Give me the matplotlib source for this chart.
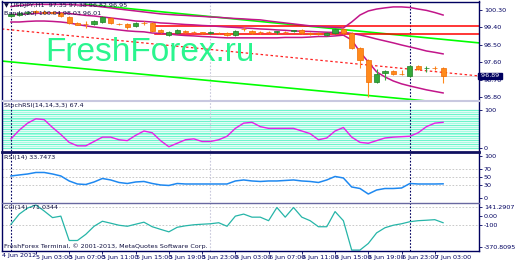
import numpy as np
import matplotlib.pyplot as plt

W, H = 520, 260

# hourly USDJPY bars, index 0 = 5 Jun 00:00
opens = [99.99, 100.04, 100.15, 100.25, 100.20, 100.20, 100.15, 99.94, 99.63, 99.58,
         99.58, 99.68, 99.89, 99.58, 99.58, 99.48, 99.63, 99.63, 99.27, 99.01,
         99.11, 99.22, 99.17, 99.14, 99.09, 99.11, 99.11, 99.01, 99.32, 99.22,
         99.17, 99.17, 99.14, 99.17, 99.19, 99.27, 99.11, 99.11, 99.01, 99.11,
         99.32, 99.11, 98.34, 97.72, 96.58, 97.05, 97.15, 96.99, 96.89, 97.41,
         97.29, 97.30, 97.30]
closes = [100.09, 100.15, 100.20, 100.20, 100.17, 100.17, 99.99, 99.63, 99.55, 99.56,
          99.73, 99.94, 99.63, 99.56, 99.42, 99.63, 99.62, 99.22, 99.17, 99.17,
          99.27, 99.17, 99.15, 99.09, 99.17, 99.10, 99.01, 99.22, 99.30, 99.11,
          99.15, 99.15, 99.19, 99.15, 99.27, 99.11, 99.06, 99.06, 99.11, 99.32,
          99.11, 98.34, 97.72, 96.58, 96.99, 97.15, 96.99, 96.98, 97.41, 97.25,
          97.30, 97.29, 96.89]
highs = [100.15, 100.20, 100.25, 100.30, 100.30, 100.25, 100.20, 99.99, 99.68, 99.73,
         99.79, 99.99, 99.94, 99.63, 99.63, 99.68, 99.73, 99.68, 99.32, 99.22,
         99.32, 99.27, 99.22, 99.17, 99.19, 99.17, 99.17, 99.27, 99.42, 99.27,
         99.22, 99.22, 99.22, 99.22, 99.29, 99.32, 99.14, 99.14, 99.17, 99.37,
         99.37, 99.17, 98.39, 97.77, 97.25, 97.20, 97.18, 97.20, 97.46, 97.43,
         97.41, 97.41, 97.33]
lows = [99.94, 99.99, 100.09, 100.15, 100.09, 100.09, 99.94, 99.58, 99.53, 99.37,
        99.53, 99.63, 99.58, 99.50, 99.32, 99.42, 99.53, 99.17, 99.11, 98.96,
        99.06, 99.11, 99.09, 99.06, 99.06, 99.06, 98.96, 98.96, 99.22, 99.06,
        99.06, 99.11, 99.06, 99.11, 99.17, 99.06, 99.01, 99.01, 98.96, 99.06,
        99.06, 98.29, 97.30, 95.80, 96.53, 96.68, 96.94, 96.94, 96.84, 97.20,
        97.10, 97.20, 96.53]

# bollinger bands
bb_upper = [100.48, 100.54, 100.56, 100.59, 100.59, 100.59, 100.59, 100.59, 100.56, 100.54,
            100.51, 100.46, 100.41, 100.35, 100.30, 100.25, 100.20, 100.15, 100.10, 100.07,
            100.04, 100.02, 99.99, 99.97, 99.94, 99.92, 99.89, 99.86, 99.84, 99.81,
            99.79, 99.73, 99.68, 99.63, 99.58, 99.53, 99.48, 99.45, 99.42, 99.40,
            99.37, 99.68, 100.04, 100.25, 100.35, 100.41, 100.46, 100.46, 100.43, 100.35,
            100.28, 100.17, 100.04]
bb_middle = [100.07, 100.07, 100.10, 100.12, 100.15, 100.15, 100.15, 100.12, 100.07, 100.02,
             99.99, 99.94, 99.89, 99.84, 99.79, 99.73, 99.71, 99.68, 99.63, 99.61,
             99.58, 99.55, 99.53, 99.50, 99.48, 99.45, 99.42, 99.40, 99.37, 99.35,
             99.32, 99.30, 99.27, 99.25, 99.22, 99.20, 99.19, 99.17, 99.15, 99.14,
             99.14, 99.09, 99.01, 98.91, 98.80, 98.70, 98.60, 98.49, 98.39, 98.29,
             98.18, 98.11, 98.03]
bb_lower = [99.68, 99.68, 99.71, 99.73, 99.73, 99.71, 99.68, 99.63, 99.55, 99.48,
            99.42, 99.37, 99.32, 99.27, 99.22, 99.19, 99.17, 99.11, 99.09, 99.06,
            99.01, 98.98, 98.96, 98.93, 98.91, 98.88, 98.86, 98.86, 98.86, 98.86,
            98.86, 98.86, 98.86, 98.88, 98.88, 98.88, 98.90, 98.93, 98.93, 98.96,
            99.00, 98.75, 98.13, 97.61, 97.10, 96.84, 96.63, 96.48, 96.37, 96.27,
            96.17, 96.09, 96.01]

# hand drawn objects: (bar index, price) end points
green_upper = ([9, 56.3], [100.59, 98.60])
green_lower = ([-1.1, 56.3], [97.66, 95.34])
red_dotted = ([-1.1, 56.3], [99.32, 96.89])
red_levels = [99.48, 99.06]
red_levels_start = 17.3

stoch = [23.3, 46.5, 65.1, 76.7, 74.4, 53.5, 34.9, 14.0, 4.7, 4.7,
         16.3, 27.9, 27.9, 20.9, 18.6, 32.6, 44.2, 39.5, 18.6, 2.3,
         11.6, 20.9, 23.3, 16.3, 16.3, 20.9, 30.2, 51.2, 65.1, 67.4,
         55.8, 51.2, 51.2, 51.2, 51.2, 44.2, 37.2, 20.9, 25.6, 44.2,
         53.5, 27.9, 14.0, 11.6, 18.6, 25.6, 27.9, 29.1, 30.2, 39.5,
         55.8, 65.1, 67.4]
rsi = [52.4, 54.8, 57.1, 60.7, 60.7, 57.1, 52.4, 40.5, 33.3, 32.1,
       38.1, 46.4, 42.9, 36.9, 34.5, 38.1, 39.3, 34.5, 31.0, 29.8,
       34.5, 33.3, 33.3, 33.3, 33.3, 33.3, 33.3, 40.5, 42.9, 40.5,
       39.3, 40.5, 40.5, 41.7, 42.9, 40.5, 39.3, 36.9, 42.9, 51.2,
       47.6, 26.2, 22.6, 9.5, 19.0, 22.6, 22.6, 23.8, 34.5, 33.3,
       33.3, 33.3, 33.7]
cci = [-87, 22, 87, 120, 55, -16, 0, -262, -262, -196,
       -109, -55, -76, -98, -109, -87, -65, -114, -142, -169,
       -120, -104, -93, -87, -82, -71, -109, 0, 22, -11,
       -11, -49, 93, -11, 93, -11, -49, -114, -114, 49,
       -49, -365, -365, -294, -180, -125, -98, -82, -60, -49,
       -44, -38, -71]

time_ticks = [3, 7, 11, 15, 19, 23, 27, 31, 35, 39, 43, 47, 51]
time_labels = ["5 Jun 03:00", "5 Jun 07:00", "5 Jun 11:00", "5 Jun 15:00", "5 Jun 19:00",
               "5 Jun 23:00", "6 Jun 03:00", "6 Jun 07:00", "6 Jun 11:00", "6 Jun 15:00",
               "6 Jun 19:00", "6 Jun 23:00", "7 Jun 03:00"]
price_ticks = [100.30, 99.40, 98.50, 97.60, 96.70, 95.80]

NAVY = "#000060"
ORANGE = "#FF8A1C"
GREEN = "#34A83A"
XLIM = (-1.08, 56.32)
SMALL = dict(fontsize=4.6, family=["Liberation Sans Narrow", "DejaVu Sans"])

fig = plt.figure(figsize=(W / 100, H / 100), dpi=100)
fig.patch.set_facecolor("white")


def px_axes(x0, y0, x1, y1):
    ax = fig.add_axes([x0 / W, 1 - y1 / H, (x1 - x0) / W, (y1 - y0) / H])
    ax.set_xlim(*XLIM)
    for s in ax.spines.values():
        s.set_visible(False)
    ax.set_xticks([])
    ax.yaxis.tick_right()
    ax.tick_params(axis="y", direction="out", length=2, width=0.6, colors=NAVY, pad=1.5)
    ax.axvline(0, color=NAVY, lw=0.8, ls=(0, (1.5, 1.5)), zorder=1)
    ax.axvline(48, color=NAVY, lw=0.8, ls=(0, (1.5, 1.5)), zorder=1)
    ax.axvline(24, color="#C8C8DC", lw=0.8, ls=(0, (1.5, 1.5)), zorder=1)
    return ax


def right_labels(ax, ticks, labels):
    ax.set_yticks(ticks)
    ax.set_yticklabels(labels, **SMALL)


def hline(y, x0, x1, color, lw):
    fig.add_artist(plt.Line2D([x0 / W, x1 / W], [1 - y / H, 1 - y / H],
                              transform=fig.transFigure, color=color, lw=lw))


def vline(x, y0, y1, color, lw):
    fig.add_artist(plt.Line2D([x / W, x / W], [1 - y0 / H, 1 - y1 / H],
                              transform=fig.transFigure, color=color, lw=lw))


def label(x, y, s, color="#101040", ha="left"):
    fig.text(x / W, 1 - y / H, s, color=color, va="center", ha=ha, **SMALL)


idx = np.arange(len(opens))
o = np.array(opens)
c = np.array(closes)

# ---- main price window
ax = px_axes(2, 2, 479, 100)
ax.set_ylim(95.645, 100.714)
right_labels(ax, price_ticks, [f"{v:.2f}" for v in price_ticks])

ax.plot(*green_upper, color="#00FF00", lw=1.2, zorder=2)
ax.plot(*green_lower, color="#00FF00", lw=1.2, zorder=2)
ax.plot(*red_dotted, color="#FF2020", lw=0.9, ls=(0, (2, 2)), zorder=2)
for lvl in red_levels:
    ax.plot([red_levels_start, XLIM[1]], [lvl, lvl], color="#FF0000", lw=1.1, zorder=2)
ax.axhline(closes[-1], color="#D8D8D8", lw=0.7, zorder=1)

for band in (bb_upper, bb_middle, bb_lower):
    ax.plot(idx, band, color="#C2168A", lw=1.1, zorder=3)

fig.text(45 / W, 1 - 61 / H, "FreshForex.ru", color="#2AF58E", fontsize=24,
         family="Liberation Sans", va="baseline", ha="left", zorder=4)

cols = np.where(c > o, GREEN, ORANGE)
edges = np.where(c > o, "#1E7F25", "#F06A00")
ax.vlines(idx, lows, highs, colors=cols, lw=0.8, zorder=5)
body = np.where(np.abs(c - o) < 0.02, 0.015 * np.sign(c - o + 1e-9), c - o)
ax.bar(idx, body, bottom=o, width=0.62, color=cols, edgecolor=edges, lw=0.5, zorder=6)

ax.text(1.0, closes[-1], f" {closes[-1]:.2f} ", transform=ax.get_yaxis_transform(),
        color="white", va="center", ha="left", zorder=10, clip_on=False,
        bbox=dict(boxstyle="square,pad=0.1", fc=NAVY, ec=NAVY), **SMALL)

label(4, 6, "\u25bc USDJPY,H1  97.35 97.38 96.82 96.95")
label(4, 13, "Bands(20) 100.04 98.03 96.01")

# ---- stochastic-like window
ax2 = px_axes(2, 101, 479, 151)
for k, lvl in enumerate(range(0, 101, 5)):
    ax2.axhline(lvl, color="#6CF5CC" if k % 2 == 0 else "#A8FBE2", lw=0.9, zorder=0)
ax2.plot(idx, stoch, color="#E81FE8", lw=1.0, zorder=3)
right_labels(ax2, [100, 0], ["100", "0"])
ax2.set_ylim(-9, 124)
label(4, 106, "StochRSI(14,14,3,3) 67.4")

# ---- RSI window
ax3 = px_axes(2, 153, 479, 202)
ax3.set_ylim(-9.5, 107)
for lvl in (70, 50, 30):
    ax3.axhline(lvl, color="#C0C0C0", lw=0.6, ls=(0, (2, 2)), zorder=0)
ax3.plot(idx, rsi, color="#1E88F0", lw=1.1, zorder=3)
right_labels(ax3, [100, 70, 50, 30, 0], ["100", "70", "50", "30", "0"])
label(4, 157, "RSI(14) 33.7473")

# ---- CCI window
ax4 = px_axes(2, 203, 479, 251)
ax4.set_ylim(-375, 141.3)
for lvl in (100, -100):
    ax4.axhline(lvl, color="#C0C0C0", lw=0.6, ls=(0, (2, 2)), zorder=0)
ax4.plot(idx, cci, color="#26B5A8", lw=0.9, zorder=3)
right_labels(ax4, [100, 0, -100, -330], ["141.2907", "0.00", "-100", "-370.8095"])
label(4, 207, "CCI(14) -71.0344")
label(4, 246, "FreshForex Terminal, \u00a9 2001-2013, MetaQuotes Software Corp.")

ax4.set_xticks(time_ticks)
ax4.set_xticklabels(time_labels, ha="left", **SMALL)
ax4.tick_params(axis="x", direction="out", length=2, width=0.6, colors=NAVY, pad=0.8)
label(2, 255, "4 Jun 2012", color=NAVY)

# ---- window frames
vline(2, 1, 251, NAVY, 1.0)
vline(479, 1, 251, NAVY, 1.0)
hline(1.5, 2, 479, NAVY, 1.0)
hline(100.5, 2, 479, "#C8C8E0", 1.5)
hline(152, 2, 479, "#101060", 2.0)
hline(202.5, 2, 479, "#6868A0", 1.0)
hline(251, 2, 479, NAVY, 1.0)

fig.savefig("out.png", dpi=100)
